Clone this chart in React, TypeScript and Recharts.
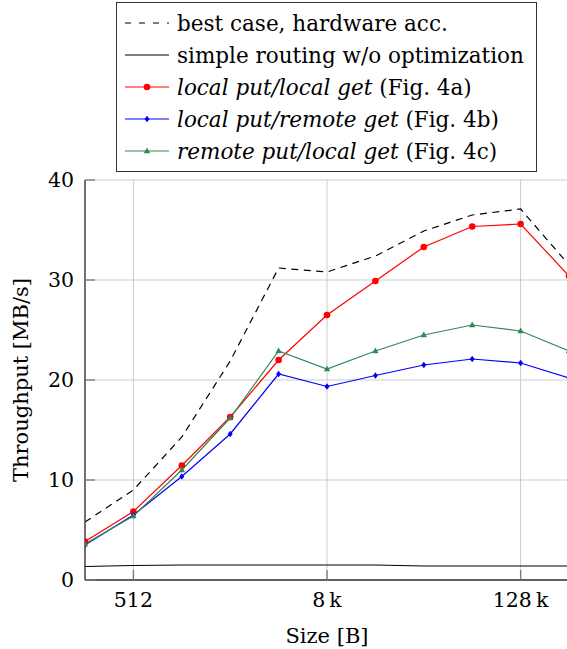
import { LineChart, Line, XAxis, YAxis, CartesianGrid, Legend, Label } from 'recharts';

const sizes = [256, 512, 1024, 2048, 4096, 8192, 16384, 32768, 65536, 131072, 262144];
const bestCase = [5.8, 9.0, 14.3, 21.9, 31.2, 30.8, 32.4, 34.9, 36.5, 37.1, 31.5];
const simpleRouting = [1.35, 1.45, 1.5, 1.5, 1.5, 1.5, 1.5, 1.4, 1.4, 1.4, 1.4];
const localLocal = [3.85, 6.85, 11.45, 16.3, 22.0, 26.5, 29.9, 33.3, 35.35, 35.6, 30.4];
const localRemote = [3.5, 6.5, 10.35, 14.6, 20.6, 19.35, 20.45, 21.5, 22.1, 21.7, 20.2];
const remoteLocal = [3.6, 6.4, 11.0, 16.2, 22.9, 21.1, 22.9, 24.5, 25.5, 24.9, 22.9];

const xTicks = [512, 8192, 131072];
const yTicks = [0, 10, 20, 30, 40];

const legendItalic = ['', '', 'local put/local get', 'local put/remote get', 'remote put/local get'];
const legendPlain = ['best case, hardware acc.', 'simple routing w/o optimization', '(Fig. 4a)', '(Fig. 4b)', '(Fig. 4c)'];

const chartData = sizes.map((size, i) => ({
  size,
  best: bestCase[i],
  simple: simpleRouting[i],
  ll: localLocal[i],
  lr: localRemote[i],
  rl: remoteLocal[i],
}));

const FONT = '"DejaVu Serif", serif';
const AXIS = '#333333';
const GREEN = '#2e8b57';
const DASH = '7 5.5';

const tickStyle = { fontFamily: FONT, fontSize: 20.5, fill: '#000' };
const titleStyle = { fontFamily: FONT, fontSize: 21, fill: '#000' };

function formatSize(v: number) {
  return v >= 1024 ? `${v / 1024}\u2009k` : `${v}`;
}

function Diamond(props: any) {
  const { cx, cy } = props;
  if (cx == null || cy == null) return null;
  return <path d={`M${cx},${cy - 3.3}L${cx + 2.5},${cy}L${cx},${cy + 3.3}L${cx - 2.5},${cy}Z`} fill="#0000ff" />;
}

function Triangle(props: any) {
  const { cx, cy } = props;
  if (cx == null || cy == null) return null;
  return <path d={`M${cx},${cy - 3.5}L${cx + 3.2},${cy + 2.2}L${cx - 3.2},${cy + 2.2}Z`} fill={GREEN} />;
}

function LegendSample({ row }: { row: number }) {
  const y = 8;
  if (row === 0) return <line x1={0} x2={44} y1={y} y2={y} stroke="#000" strokeWidth={1.2} strokeDasharray="6 8" />;
  if (row === 1) return <line x1={0} x2={44} y1={y} y2={y} stroke="#000" strokeWidth={1.2} />;
  const color = row === 2 ? '#ff0000' : row === 3 ? '#0000ff' : GREEN;
  return (
    <g>
      <line x1={0} x2={44} y1={y} y2={y} stroke={color} strokeWidth={1.2} />
      {row === 2 && <circle cx={22} cy={y} r={3.3} fill={color} />}
      {row === 3 && <Diamond cx={22} cy={y} />}
      {row === 4 && <Triangle cx={22} cy={y} />}
    </g>
  );
}

function renderLegend() {
  return (
    <div
      style={{
        boxSizing: 'border-box',
        width: 421,
        height: 170,
        border: '1.3px solid #333',
        background: '#fff',
        paddingTop: 4,
        fontFamily: FONT,
        fontSize: 21.5,
        color: '#000',
      }}
    >
      {legendPlain.map((txt, i) => (
        <div key={i} style={{ display: 'flex', alignItems: 'center', height: 32 }}>
          <svg width={44} height={16} style={{ marginLeft: 8, marginRight: 8, overflow: 'visible' }}>
            <LegendSample row={i} />
          </svg>
          <span style={{ whiteSpace: 'nowrap' }}>
            {legendItalic[i] && <i>{legendItalic[i]} </i>}
            {txt}
          </span>
        </div>
      ))}
    </div>
  );
}

export default function App() {
  return (
    <div style={{ position: 'absolute', left: 0, top: 0, width: 567, height: 649, overflow: 'hidden', background: '#fff' }}>
      <LineChart width={600} height={649} data={chartData} margin={{ top: 180, right: 31, bottom: 0, left: 0 }}>
        <CartesianGrid stroke="#cccccc" strokeWidth={1} />
        <XAxis
          dataKey="size"
          type="number"
          scale="log"
          base={2}
          domain={[256, 262144]}
          ticks={xTicks}
          tickFormatter={formatSize}
          allowDataOverflow
          height={69}
          tick={tickStyle}
          tickSize={-10}
          tickMargin={22}
          stroke={AXIS}
          axisLine={{ stroke: AXIS, strokeWidth: 1.3 }}
          tickLine={{ stroke: '#777', strokeWidth: 1.3 }}
        >
          <Label value="Size [B]" position="insideBottom" offset={6} style={titleStyle} />
        </XAxis>
        <XAxis
          xAxisId="top"
          orientation="top"
          dataKey="size"
          type="number"
          scale="log"
          base={2}
          domain={[256, 262144]}
          ticks={xTicks}
          allowDataOverflow
          height={0}
          tick={false}
          tickSize={-10}
          axisLine={{ stroke: AXIS, strokeWidth: 1.3 }}
          tickLine={{ stroke: '#777', strokeWidth: 1.3 }}
        />
        <YAxis
          type="number"
          domain={[0, 40]}
          ticks={yTicks}
          width={85}
          tick={tickStyle}
          tickSize={-10}
          tickMargin={21}
          axisLine={{ stroke: AXIS, strokeWidth: 1.3 }}
          tickLine={{ stroke: '#777', strokeWidth: 1.3 }}
        >
          <Label
            value="Throughput [MB/s]"
            angle={-90}
            position="insideLeft"
            offset={21}
            style={{ ...titleStyle, textAnchor: 'middle' }}
          />
        </YAxis>
        <YAxis
          yAxisId="right"
          orientation="right"
          type="number"
          domain={[0, 40]}
          ticks={yTicks}
          width={0}
          tick={false}
          tickSize={-10}
          axisLine={{ stroke: AXIS, strokeWidth: 1.3 }}
          tickLine={{ stroke: '#777', strokeWidth: 1.3 }}
        />
        <Legend
          layout="horizontal"
          verticalAlign="middle"
          align="center"
          content={renderLegend}
          wrapperStyle={{ left: 116, top: 2, width: 421, height: 170 }}
        />
        <Line dataKey="best" stroke="#000" strokeWidth={1.2} strokeDasharray={DASH} dot={false} isAnimationActive={false} />
        <Line dataKey="simple" stroke="#000" strokeWidth={1.2} dot={false} isAnimationActive={false} />
        <Line
          dataKey="ll"
          stroke="#ff0000"
          strokeWidth={1.2}
          dot={{ r: 3.3, fill: '#ff0000', stroke: 'none' }}
          isAnimationActive={false}
        />
        <Line dataKey="lr" stroke="#0000ff" strokeWidth={1.2} dot={<Diamond />} isAnimationActive={false} />
        <Line dataKey="rl" stroke={GREEN} strokeWidth={1.2} dot={<Triangle />} isAnimationActive={false} />
      </LineChart>
    </div>
  );
}
